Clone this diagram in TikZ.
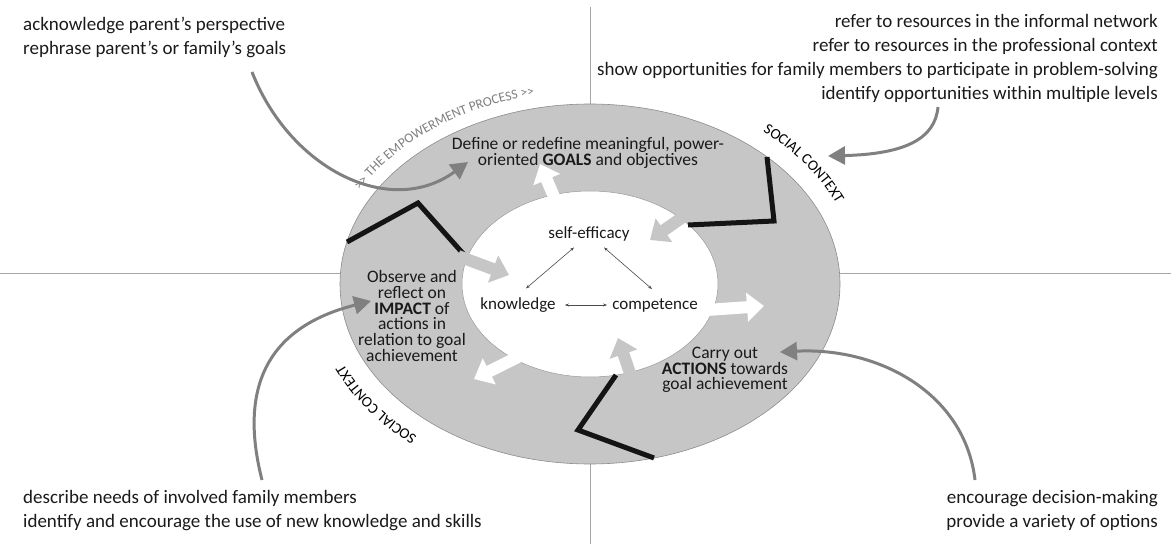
\documentclass[tikz,border=0pt]{standalone}
\usepackage{fontspec}
\setmainfont{Carlito}
\usetikzlibrary{arrows.meta,decorations.text,calc}
\definecolor{ring}{HTML}{C6C6C6}
\definecolor{conn}{HTML}{808080}
\definecolor{axis}{HTML}{A6A6A6}
\definecolor{emp}{HTML}{7F7F7F}
\definecolor{txt}{HTML}{1A1A1A}
\begin{document}
\begin{tikzpicture}[x=1pt,y=1pt, text=txt,
  outertext/.style={font=\fontsize{19}{24}\selectfont, inner sep=0pt},
  ringtext/.style={font=\fontsize{17.5}{15.8}\selectfont, align=center, inner sep=0pt},
  coretext/.style={font=\fontsize{17}{18}\selectfont, inner sep=1pt},
  conn/.style={draw=conn, line width=3pt, -{Triangle[length=17pt,width=18pt]}},
  zig/.style={draw=black!92, line width=5pt, line join=miter},
  wblock/.style={draw=white, line width=12pt, -{Triangle[length=17pt,width=28pt]}},
  gblock/.style={draw=ring, line width=12pt, -{Triangle[length=17pt,width=28pt]}},
  thinarr/.style={draw=black!70, line width=0.6pt, {Stealth[length=4pt,width=3pt]}-{Stealth[length=4pt,width=3pt]}},
]
\useasboundingbox (0,0) rectangle (1171,544);
\coordinate (C) at (590,260);
% axes
\draw[axis, line width=1pt] (590,537) -- (590,0);
\draw[axis, line width=1pt] (0,270) -- (1171,270);
% rings
\draw[fill=ring, draw=black!45, line width=0.6pt] (C) ellipse [x radius=250pt, y radius=180pt];
\draw[fill=white, draw=black!40, line width=0.5pt] (C) ellipse [x radius=128pt, y radius=93pt];
% zigzags
\draw[zig] (347,302) -- (418,341) -- (467,286);
\draw[zig] (767,387) -- (774,323) -- (688,319);
\draw[zig] (616,169) -- (578,114) -- (654,86);
% block arrows
\draw[wblock] (555,345) -- (540,380);
\draw[gblock] (690,332) -- (650,304);
\draw[gblock] (458,288) -- (509,269);
\draw[wblock] (707,234) -- (764,238);
\draw[wblock] (520,188) -- (474,165);
\draw[gblock] (633,162) -- (618,206);
% ring texts
\node[ringtext] (goals) at (588,391) {Define or redefine meaningful, power-\\oriented \textbf{GOALS} and objectives};
\node[ringtext] (impact) at (412,228) {Observe and\\reflect on\\\textbf{IMPACT} of\\actions in\\relation to goal\\achievement};
\node[ringtext] (actions) at (725,174) {Carry out\\\textbf{ACTIONS} towards\\goal achievement};
% core
\node[coretext] (se) at (589,310) {self-efficacy};
\node[coretext] (kn) at (518,239) {knowledge};
\node[coretext] (co) at (655,239) {competence};
\draw[thinarr] ([shift={(-15,-5)}]se.south) -- ([shift={(8,8)}]kn.north);
\draw[thinarr] ([shift={(15,-5)}]se.south) -- ([shift={(-3,8)}]co.north);
\draw[thinarr, shorten <=8pt, shorten >=4pt] (kn) -- (co);
% curved labels
\path[decorate, decoration={text along path, text align=left,
  text={|\fontsize{13.5}{15}\selectfont\color{emp}|>> THE EMPOWERMENT PROCESS >>}}]
  ($(C)+(151:263pt and 193pt)$) arc[start angle=151, end angle=75, x radius=263pt, y radius=193pt];
\path[decorate, decoration={text along path, text align=left,
  text={|\fontsize{15}{17}\selectfont|SOCIAL CONTEXT}}]
  ($(C)+(50:269pt and 199pt)$) arc[start angle=50, end angle=5, x radius=269pt, y radius=199pt];
\path[decorate, decoration={text along path, text align=left,
  text={|\fontsize{15}{17}\selectfont|SOCIAL CONTEXT}}]
  ($(C)+(230:269pt and 199pt)$) arc[start angle=230, end angle=185, x radius=269pt, y radius=199pt];
% outer texts
\node[outertext, anchor=north west, align=left] (tl) at (23,527) {acknowledge parent’s perspective\\rephrase parent’s or family’s goals};
\node[outertext, anchor=north east, align=right] (tr) at (1158,530) {refer to resources in the informal network\\refer to resources in the professional context\\show opportunities for family members to participate in problem-solving\\identify opportunities within multiple levels};
\node[outertext, anchor=south west, align=left] (bl) at (23,13) {describe needs of involved family members\\identify and encourage the use of new knowledge and skills};
\node[outertext, anchor=south east, align=right] (br) at (1158,13) {encourage decision-making\\provide a variety of options};
% connectors
\coordinate (tlS) at (252,472); \coordinate (tlT) at (468,382);
\coordinate (trS) at (938,437); \coordinate (trT) at (828,388);
\coordinate (blS) at (262,64);  \coordinate (blT) at (371,243);
\coordinate (brS) at (975,64);  \coordinate (brT) at (780,192);
\draw[conn] (tlS) .. controls (290,375) and (390,325) .. (tlT);
\draw[conn] (trS) .. controls (935,405) and (905,390) .. (trT);
\draw[conn] (blS) .. controls (235,170) and (280,220) .. (blT);
\draw[conn] (brS) .. controls (965,150) and (880,197) .. (brT);
\end{tikzpicture}
\end{document}
